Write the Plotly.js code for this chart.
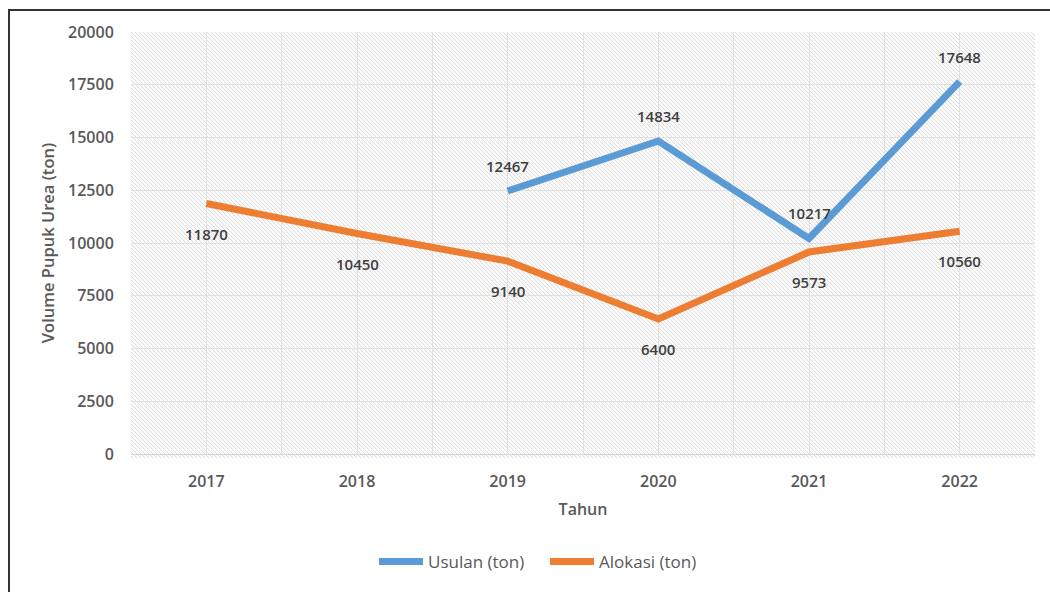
<!DOCTYPE html>
<html>
<head>
<meta charset="utf-8">
<script src="https://cdn.plot.ly/plotly-3.0.1.min.js"></script>
<style>
  html, body { margin: 0; padding: 0; background: #ffffff; }
  #wrap { position: relative; width: 1050px; height: 592px; overflow: hidden; background: #fff; }
  #hatch { position: absolute; left: 131px; top: 32px; width: 904px; height: 426px;
    background-color: #fbfbfb;
    background-image: url("data:image/svg+xml;utf8,<svg xmlns='http://www.w3.org/2000/svg' width='4' height='4'><path d='M-1,-1 L5,5 M-1,3 L1,5 M3,-1 L5,1' stroke='%23dedede' stroke-width='1'/></svg>");
    background-repeat: repeat; }
  #chart { position: absolute; left: 0; top: 0; width: 1050px; height: 592px; }
  #frame { position: absolute; left: 8px; top: 9px; width: 2000px; height: 2000px;
    border-top: 2px solid #333; border-left: 2px solid #333; pointer-events: none; }
</style>
</head>
<body>
<div id="wrap">
  <div id="hatch"></div>
  <div id="chart"></div>
  <div id="frame"></div>
</div>
<script>
const years = [2017, 2018, 2019, 2020, 2021, 2022];
const usulanYears = [2019, 2020, 2021, 2022];
const usulan = [12467, 14834, 10217, 17648];
const alokasi = [11870, 10450, 9140, 6400, 9573, 10560];
const yTicks = [0, 2500, 5000, 7500, 10000, 12500, 15000, 17500, 20000];

const blue = '#5B9BD5', orange = '#ED7D31';
const labelFont = { family: 'Open Sans, sans-serif', size: 15, color: '#404040', weight: 600 };

const traces = [
  { x: usulanYears, y: usulan, name: 'Usulan (ton)', mode: 'lines', type: 'scatter',
    line: { color: blue, width: 7 } },
  { x: years, y: alokasi, name: 'Alokasi (ton)', mode: 'lines', type: 'scatter',
    line: { color: orange, width: 7 } }
];

const annotations = [];
usulanYears.forEach((yr, i) => annotations.push({ x: yr, y: usulan[i], xref: 'x', yref: 'y',
  text: String(usulan[i]), showarrow: false, yshift: 25, font: labelFont }));
years.forEach((yr, i) => annotations.push({ x: yr, y: alokasi[i], xref: 'x', yref: 'y',
  text: String(alokasi[i]), showarrow: false, yshift: -30, font: labelFont }));

const tickFont = { family: 'Open Sans, sans-serif', size: 16, color: '#595959', weight: 600 };

const layout = {
  width: 1050, height: 592,
  margin: { l: 131, r: 15, t: 32, b: 134 },
  paper_bgcolor: 'rgba(0,0,0,0)', plot_bgcolor: 'rgba(0,0,0,0)',
  showlegend: true,
  legend: { orientation: 'h', x: 0.458, xanchor: 'center', y: -0.256, yanchor: 'middle',
    font: { family: 'Open Sans, sans-serif', size: 17, color: '#595959' }, itemwidth: 44,
    entrywidth: 112, entrywidthmode: 'pixels' },
  xaxis: {
    type: 'linear', range: [2016.5, 2022.5], tickvals: years, ticktext: years.map(String),
    showgrid: false, zeroline: false, showline: true, linecolor: '#d9d9d9', linewidth: 1,
    ticks: 'outside', ticklen: 13, tickcolor: 'rgba(0,0,0,0)',
    minor: { dtick: 0.5, tick0: 2016.5, showgrid: true, gridcolor: '#e2e2e2', gridwidth: 1, ticks: '' },
    tickfont: tickFont,
    title: { text: 'Tahun', font: { family: 'Open Sans, sans-serif', size: 16, color: '#595959', weight: 600 }, standoff: 12 }
  },
  yaxis: {
    range: [0, 20000], tickvals: yTicks, ticktext: yTicks.map(String),
    showgrid: true, gridcolor: '#e2e2e2', gridwidth: 1, zeroline: false,
    ticks: 'outside', ticklen: 13, tickcolor: 'rgba(0,0,0,0)',
    tickfont: tickFont,
    title: { text: 'Volume Pupuk Urea (ton)', font: { family: 'Open Sans, sans-serif', size: 16.5, color: '#595959', weight: 600 }, standoff: 9 }
  },
  annotations: annotations
};

Plotly.newPlot('chart', traces, layout, { displayModeBar: false, staticPlot: true });
</script>
</body>
</html>
